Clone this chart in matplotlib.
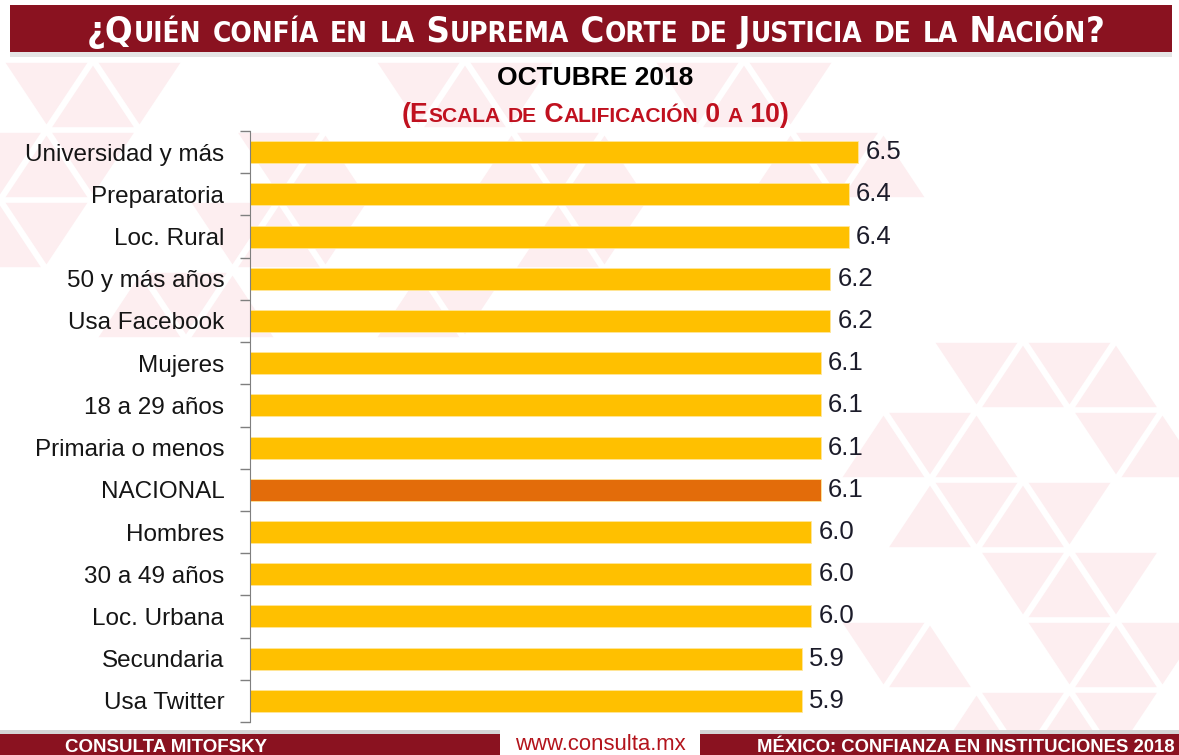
import os
import matplotlib.pyplot as plt
from matplotlib import font_manager as fm
from matplotlib.patches import Rectangle, Polygon

plt.rcParams['font.family'] = ['Liberation Sans', 'DejaVu Sans']

# data
categories = ['Universidad y más', 'Preparatoria', 'Loc. Rural', '50 y más años',
              'Usa Facebook', 'Mujeres', '18 a 29 años', 'Primaria o menos',
              'NACIONAL', 'Hombres', '30 a 49 años', 'Loc. Urbana',
              'Secundaria', 'Usa Twitter']
values = [6.5, 6.4, 6.4, 6.2, 6.2, 6.1, 6.1, 6.1, 6.1, 6.0, 6.0, 6.0, 5.9, 5.9]
highlight = 'NACIONAL'

W, H = 1179, 755
fig = plt.figure(figsize=(W / 100, H / 100), dpi=100)
fig.patch.set_facecolor('white')


def find_font(*keys):
    # look for a condensed bold face among the installed files
    for k in keys:
        for f in fm.fontManager.ttflist:
            if os.path.basename(f.fname).lower().startswith(k.lower()):
                return f.fname
    return None


cond_file = find_font('DejaVuSansCondensed-Bold', 'LiberationSansNarrow-Bold',
                      'RobotoCondensed-Bold', 'OpenSans_Condensed-Bold', 'OpenSansCondensed-Bold')


def cond_props(size):
    if cond_file:
        return fm.FontProperties(fname=cond_file, size=size)
    return fm.FontProperties(family='Liberation Sans', weight='bold', size=size)


def px(x0, y0, x1, y1):
    # pixel box (top-left origin) -> figure fraction rect
    return [x0 / W, 1 - y1 / H, (x1 - x0) / W, (y1 - y0) / H]


# faint triangle pattern in the background
bg = fig.add_axes([0, 0, 1, 1], zorder=-5)
bg.set_xlim(0, W)
bg.set_ylim(H, 0)
bg.axis('off')
tri_rows = {
    0: [(1, 3), (9, 11), (15, 17)],
    1: [(0, 2), (6, 7), (11, 13), (17, 19)],
    2: [(0, 1), (5, 7), (12, 13)],
    3: [(3, 5), (9, 10)],
    4: [(21, 24)],
    5: [(19, 21), (24, 25)],
    6: [(20, 23)],
    7: [(22, 24)],
    8: [(19, 20), (23, 25)],
    9: [(21, 24)],
}
hw, th, top = 46.5, 70, 60
for r, spans in tri_rows.items():
    y0, y1 = top + r * th, top + (r + 1) * th
    for a, b in spans:
        for c in range(a, b + 1):
            xc = c * hw
            if (r + c) % 2 == 0:
                pts = [(xc - hw, y1), (xc, y0), (xc + hw, y1)]
            else:
                pts = [(xc - hw, y0), (xc + hw, y0), (xc, y1)]
            cx = sum(p[0] for p in pts) / 3
            cy = sum(p[1] for p in pts) / 3
            pts = [(cx + (p[0] - cx) * 0.88, cy + (p[1] - cy) * 0.88) for p in pts]
            bg.add_patch(Polygon(pts, closed=True, facecolor='#fdeef0', edgecolor='none'))

# header band and footer blocks
deco = fig.add_axes([0, 0, 1, 1], zorder=5)
deco.set_xlim(0, W)
deco.set_ylim(H, 0)
deco.axis('off')
deco.add_patch(Rectangle((10, 5), 1162, 47, facecolor='#8a1220', edgecolor='none'))
deco.add_patch(Rectangle((10, 52), 1162, 5, facecolor='#d5d5d5', edgecolor='none', alpha=0.6))
deco.add_patch(Rectangle((0, 734), 500, 21, facecolor='#8a1220', edgecolor='none'))
deco.add_patch(Rectangle((0, 730), 500, 4, facecolor='#d5d5d5', edgecolor='none'))
deco.add_patch(Rectangle((700, 734), 479, 21, facecolor='#8a1220', edgecolor='none'))
deco.add_patch(Rectangle((700, 730), 479, 4, facecolor='#d5d5d5', edgecolor='none'))

fig.canvas.draw()
rend = fig.canvas.get_renderer()


def fit_text(ax, x, y, s, width, ha, **kw):
    # scale the font so the text covers the given pixel width
    t = ax.text(x, y, s, ha=ha, **kw)
    w = t.get_window_extent(rend).width
    fp = t.get_fontproperties()
    fp.set_size(fp.get_size() * width / w)
    t.set_fontproperties(fp)
    return t


def small_caps(ax, x, y, text, big, small, width, props_fn, **kw):
    # text in small caps, centred on x, scaled to a pixel width
    parts = []
    cur, cur_big = '', None
    for ch in text:
        is_big = not ch.islower()
        if cur_big is None or is_big == cur_big:
            cur += ch
        else:
            parts.append((cur, cur_big))
            cur = ch
        cur_big = is_big
    parts.append((cur, cur_big))
    objs = [ax.text(0, y, s.upper(), fontproperties=props_fn(big if b else small),
                    ha='left', va='baseline', **kw) for s, b in parts]
    total = sum(t.get_window_extent(rend).width for t in objs)
    k = width / total
    for t, (s, b) in zip(objs, parts):
        t.set_fontproperties(props_fn((big if b else small) * k))
    widths = [t.get_window_extent(rend).width for t in objs]
    xd = ax.transData.transform((x, y))[0] - sum(widths) / 2
    inv = ax.transData.inverted()
    for t, w in zip(objs, widths):
        t.set_x(inv.transform((xd, 0))[0])
        xd += w


small_caps(deco, 596, 42, '¿Quién confía en la Suprema Corte de Justicia de la Nación?',
           26, 20, 1017, cond_props, color='white')
fit_text(deco, 595, 78, 'OCTUBRE 2018', 196, 'center', va='center',
         color='black', fontsize=18, fontweight='bold')
small_caps(deco, 595, 122, '(Escala de Calificación 0 a 10)', 19, 15, 390,
           lambda s: fm.FontProperties(family='Liberation Sans', weight='bold', size=s),
           color='#c0111f')

deco.text(65, 752, 'CONSULTA MITOFSKY', ha='left', va='baseline', color='white',
          fontsize=13.5, fontweight='bold')
fit_text(deco, 600, 750, 'www.consulta.mx', 170, 'center', va='baseline',
         color='#b3141c', fontsize=13)
fit_text(deco, 1175, 752, 'MÉXICO: CONFIANZA EN INSTITUCIONES 2018', 418, 'right',
         va='baseline', color='white', fontsize=13.5, fontweight='bold')

# bar chart
ax = fig.add_axes(px(250, 131, 1170, 722))
ax.patch.set_alpha(0)
y = list(range(len(categories)))
colors = ['#e36c0a' if c == highlight else '#ffc000' for c in categories]
ax.barh(y, values, height=0.52, color=colors, edgecolor='#ffe79a', linewidth=0.6)
ax.set_ylim(len(categories) - 0.5, -0.5)
ax.set_xlim(0, 6.5 * (1170 - 250) / 608)
ax.set_yticks(y)
ax.set_yticklabels(categories, fontsize=17.5, color='#151515')
ax.set_yticks([i + 0.5 for i in range(-1, len(categories))], minor=True)
ax.tick_params(axis='y', which='major', length=0, pad=18.5)
ax.tick_params(axis='y', which='minor', length=7, color='#7f7f7f', width=1)
ax.set_xticks([])
for s in ['top', 'right', 'bottom']:
    ax.spines[s].set_visible(False)
ax.spines['left'].set_color('#7f7f7f')
for yi, v in zip(y, values):
    ax.text(v + 0.08, yi, f'{v:.1f}', va='center', ha='left', fontsize=18.5, color='#1c1c2a')

fig.savefig('out.png', dpi=100)
